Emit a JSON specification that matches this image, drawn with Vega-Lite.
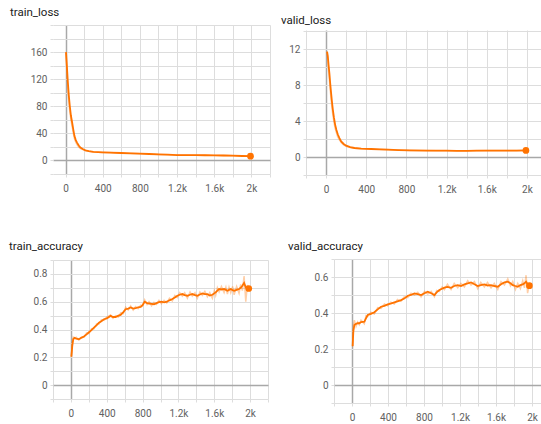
{
  "$schema": "https://vega.github.io/schema/vega-lite/v6.json",
  "padding": {"left": 9, "top": 6, "right": 0, "bottom": 0},
  "columns": 2,
  "align": "none",
  "spacing": {"row": 46, "column": 10},
  "concat": [
    {
      "width": 217, "height": 149,
      "title": {"text": "train_loss", "offset": 2},
      "data": {"name": "tl"},
      "layer": [
        {"mark": {"type": "line", "color": "#ff7300", "opacity": 0.35, "strokeWidth": 1.5},
         "encoding": {
           "x": {"field": "step", "type": "quantitative", "scale": {"domain": [-135, 2200], "nice": false, "zero": false},
                 "axis": {"title": null, "tickCount": 50, "values": [0,200,400,600,800,1000,1200,1400,1600,1800,2000,2200], "labelExpr": "datum.value >= 0 && datum.value % 400 == 0 ? (datum.value >= 1000 ? (datum.value / 1000) + 'k' : '' + datum.value) : ''", "minExtent": 18, "maxExtent": 18,
                          "gridColor": {"condition": {"test": "datum.value === 0", "value": "#a8a8a8"}, "value": "#dddddd"}, "gridWidth": {"condition": {"test": "datum.value === 0", "value": 1.5}, "value": 1}}},
           "y": {"field": "raw", "type": "quantitative", "scale": {"domain": [-20, 200], "nice": false, "zero": false},
                 "axis": {"title": null, "tickCount": 50, "values": [-20,0,20,40,60,80,100,120,140,160,180,200], "labelExpr": "datum.value >= 0 && datum.value <= 160 && datum.value % 40 == 0 ? '' + datum.value : ''", "minExtent": 43, "maxExtent": 43,
                          "gridColor": {"condition": {"test": "datum.value === 0", "value": "#a8a8a8"}, "value": "#dddddd"}, "gridWidth": {"condition": {"test": "datum.value === 0", "value": 1.5}, "value": 1}}}
         }},
        {"mark": {"type": "line", "color": "#ff7300", "strokeWidth": 1.8},
         "encoding": {"x": {"field": "step", "type": "quantitative"}, "y": {"field": "smooth", "type": "quantitative"}}},
        {"transform": [{"joinaggregate": [{"op": "max", "field": "step", "as": "last"}]}, {"filter": "datum.step == datum.last"}],
         "mark": {"type": "point", "filled": true, "color": "#ff7300", "opacity": 1, "size": 45},
         "encoding": {"x": {"field": "step", "type": "quantitative"}, "y": {"field": "smooth", "type": "quantitative"}}}
      ]
    },
    {
      "width": 236, "height": 150,
      "title": {"text": "valid_loss", "offset": -1},
      "data": {"name": "vl"},
      "layer": [
        {"mark": {"type": "line", "color": "#ff7300", "opacity": 0.35, "strokeWidth": 1.5},
         "encoding": {
           "x": {"field": "step", "type": "quantitative", "scale": {"domain": [-200, 2150], "nice": false, "zero": false},
                 "axis": {"title": null, "tickCount": 50, "values": [-200,0,200,400,600,800,1000,1200,1400,1600,1800,2000], "labelExpr": "datum.value >= 0 && datum.value % 400 == 0 ? (datum.value >= 1000 ? (datum.value / 1000) + 'k' : '' + datum.value) : ''", "minExtent": 18, "maxExtent": 18,
                          "gridColor": {"condition": {"test": "datum.value === 0", "value": "#a8a8a8"}, "value": "#dddddd"}, "gridWidth": {"condition": {"test": "datum.value === 0", "value": 1.5}, "value": 1}}},
           "y": {"field": "raw", "type": "quantitative", "scale": {"domain": [-2, 14.67], "nice": false, "zero": false},
                 "axis": {"title": null, "tickCount": 50, "values": [-2,0,2,4,6,8,10,12,14], "labelExpr": "datum.value >= 0 && datum.value <= 12 && datum.value % 4 == 0 ? '' + datum.value : ''", "minExtent": 25, "maxExtent": 25,
                          "gridColor": {"condition": {"test": "datum.value === 0", "value": "#a8a8a8"}, "value": "#dddddd"}, "gridWidth": {"condition": {"test": "datum.value === 0", "value": 1.5}, "value": 1}}}
         }},
        {"mark": {"type": "line", "color": "#ff7300", "strokeWidth": 1.8},
         "encoding": {"x": {"field": "step", "type": "quantitative"}, "y": {"field": "smooth", "type": "quantitative"}}},
        {"transform": [{"joinaggregate": [{"op": "max", "field": "step", "as": "last"}]}, {"filter": "datum.step == datum.last"}],
         "mark": {"type": "point", "filled": true, "color": "#ff7300", "opacity": 1, "size": 45},
         "encoding": {"x": {"field": "step", "type": "quantitative"}, "y": {"field": "smooth", "type": "quantitative"}}},
        {"data": {"values": [{}]}, "mark": {"type": "rect", "color": "#ffffff", "opacity": 1},
         "encoding": {"x": {"datum": -200, "type": "quantitative"}, "x2": {"datum": 2150}, "y": {"datum": 14.05, "type": "quantitative"}, "y2": {"datum": 14.67}}}
      ]
    },
    {
      "width": 215, "height": 139,
      "title": {"text": "train_accuracy", "offset": 3},
      "data": {"name": "ta"},
      "layer": [
        {"mark": {"type": "line", "color": "#ff7300", "opacity": 0.35, "strokeWidth": 1.5},
         "encoding": {
           "x": {"field": "step", "type": "quantitative", "scale": {"domain": [-200, 2200], "nice": false, "zero": false},
                 "axis": {"title": null, "tickCount": 50, "values": [-200,0,200,400,600,800,1000,1200,1400,1600,1800,2000,2200], "labelExpr": "datum.value >= 0 && datum.value % 400 == 0 ? (datum.value >= 1000 ? (datum.value / 1000) + 'k' : '' + datum.value) : ''", "minExtent": 18, "maxExtent": 18,
                          "gridColor": {"condition": {"test": "datum.value === 0", "value": "#a8a8a8"}, "value": "#dddddd"}, "gridWidth": {"condition": {"test": "datum.value === 0", "value": 1.5}, "value": 1}}},
           "y": {"field": "raw", "type": "quantitative", "scale": {"domain": [-0.1, 0.9], "nice": false, "zero": false},
                 "axis": {"title": null, "tickCount": 50, "values": [-0.1,0,0.1,0.2,0.3,0.4,0.5,0.6,0.7,0.8,0.9], "labelExpr": "indexof([0, 0.2, 0.4, 0.6, 0.8], datum.value) >= 0 ? '' + datum.value : ''", "minExtent": 44, "maxExtent": 44,
                          "gridColor": {"condition": {"test": "datum.value === 0", "value": "#a8a8a8"}, "value": "#dddddd"}, "gridWidth": {"condition": {"test": "datum.value === 0", "value": 1.5}, "value": 1}}}
         }},
        {"mark": {"type": "line", "color": "#ff7300", "strokeWidth": 1.8},
         "encoding": {"x": {"field": "step", "type": "quantitative"}, "y": {"field": "smooth", "type": "quantitative"}}},
        {"transform": [{"joinaggregate": [{"op": "max", "field": "step", "as": "last"}]}, {"filter": "datum.step == datum.last"}],
         "mark": {"type": "point", "filled": true, "color": "#ff7300", "opacity": 1, "size": 45},
         "encoding": {"x": {"field": "step", "type": "quantitative"}, "y": {"field": "smooth", "type": "quantitative"}}}
      ]
    },
    {
      "width": 208, "height": 144,
      "title": {"text": "valid_accuracy", "offset": 2, "dx": 7},
      "data": {"name": "va"},
      "layer": [
        {"mark": {"type": "line", "color": "#ff7300", "opacity": 0.35, "strokeWidth": 1.5},
         "encoding": {
           "x": {"field": "step", "type": "quantitative", "scale": {"domain": [-200, 2110], "nice": false, "zero": false},
                 "axis": {"title": null, "tickCount": 50, "values": [-200,0,200,400,600,800,1000,1200,1400,1600,1800,2000], "labelExpr": "datum.value >= 0 && datum.value % 400 == 0 ? (datum.value >= 1000 ? (datum.value / 1000) + 'k' : '' + datum.value) : ''", "minExtent": 18, "maxExtent": 18,
                          "gridColor": {"condition": {"test": "datum.value === 0", "value": "#a8a8a8"}, "value": "#dddddd"}, "gridWidth": {"condition": {"test": "datum.value === 0", "value": 1.5}, "value": 1}}},
           "y": {"field": "raw", "type": "quantitative", "scale": {"domain": [-0.1, 0.7], "nice": false, "zero": false},
                 "axis": {"title": null, "tickCount": 50, "values": [-0.1,0,0.1,0.2,0.3,0.4,0.5,0.6,0.7], "labelExpr": "indexof([0, 0.2, 0.4, 0.6], datum.value) >= 0 ? '' + datum.value : ''", "minExtent": 53, "maxExtent": 53,
                          "gridColor": {"condition": {"test": "datum.value === 0", "value": "#a8a8a8"}, "value": "#dddddd"}, "gridWidth": {"condition": {"test": "datum.value === 0", "value": 1.5}, "value": 1}}}
         }},
        {"mark": {"type": "line", "color": "#ff7300", "strokeWidth": 1.8},
         "encoding": {"x": {"field": "step", "type": "quantitative"}, "y": {"field": "smooth", "type": "quantitative"}}},
        {"transform": [{"joinaggregate": [{"op": "max", "field": "step", "as": "last"}]}, {"filter": "datum.step == datum.last"}],
         "mark": {"type": "point", "filled": true, "color": "#ff7300", "opacity": 1, "size": 45},
         "encoding": {"x": {"field": "step", "type": "quantitative"}, "y": {"field": "smooth", "type": "quantitative"}}}
      ]
    }
  ],
  "datasets": {
    "tl": [
      {"step": 5, "smooth": 160, "raw": 160}, {"step": 15, "smooth": 138, "raw": 128}, {"step": 25, "smooth": 115, "raw": 105},
      {"step": 35, "smooth": 96, "raw": 88}, {"step": 46, "smooth": 80, "raw": 72}, {"step": 58, "smooth": 66, "raw": 60},
      {"step": 71, "smooth": 56, "raw": 50}, {"step": 84, "smooth": 45, "raw": 40}, {"step": 96, "smooth": 36, "raw": 32},
      {"step": 110, "smooth": 30, "raw": 27}, {"step": 125, "smooth": 26, "raw": 23}, {"step": 142, "smooth": 22, "raw": 20},
      {"step": 160, "smooth": 19, "raw": 17.5}, {"step": 185, "smooth": 17, "raw": 16}, {"step": 214, "smooth": 15, "raw": 14.5},
      {"step": 250, "smooth": 13.8, "raw": 13.5}, {"step": 300, "smooth": 12.8, "raw": 12.5}, {"step": 400, "smooth": 12, "raw": 11.8},
      {"step": 480, "smooth": 11.5, "raw": 11.6}, {"step": 600, "smooth": 11, "raw": 10.8}, {"step": 700, "smooth": 10.5, "raw": 10.6},
      {"step": 800, "smooth": 10, "raw": 9.8}, {"step": 900, "smooth": 9.5, "raw": 9.6}, {"step": 1000, "smooth": 9, "raw": 8.9},
      {"step": 1100, "smooth": 8.5, "raw": 8.6}, {"step": 1200, "smooth": 8, "raw": 7.9}, {"step": 1300, "smooth": 7.9, "raw": 8},
      {"step": 1400, "smooth": 7.8, "raw": 7.7}, {"step": 1500, "smooth": 7.7, "raw": 7.8}, {"step": 1600, "smooth": 7.6, "raw": 7.5},
      {"step": 1700, "smooth": 7.3, "raw": 7.4}, {"step": 1800, "smooth": 7, "raw": 6.9}, {"step": 1900, "smooth": 6.6, "raw": 6.7},
      {"step": 1990, "smooth": 6.3, "raw": 6.2}
    ],
    "vl": [
      {"step": 10, "smooth": 11.7, "raw": 11.7}, {"step": 17, "smooth": 11.2, "raw": 10.8}, {"step": 25, "smooth": 10.2, "raw": 9.6},
      {"step": 33, "smooth": 9.3, "raw": 8.6}, {"step": 41, "smooth": 8.2, "raw": 7.5}, {"step": 50, "smooth": 7.1, "raw": 6.4},
      {"step": 58, "smooth": 6.2, "raw": 5.5}, {"step": 67, "smooth": 5.3, "raw": 4.7}, {"step": 78, "smooth": 4.4, "raw": 3.9},
      {"step": 90, "smooth": 3.6, "raw": 3.2}, {"step": 103, "smooth": 3.0, "raw": 2.7}, {"step": 117, "smooth": 2.5, "raw": 2.2},
      {"step": 133, "smooth": 2.1, "raw": 1.9}, {"step": 150, "smooth": 1.74, "raw": 1.6}, {"step": 175, "smooth": 1.45, "raw": 1.35},
      {"step": 200, "smooth": 1.26, "raw": 1.2}, {"step": 240, "smooth": 1.1, "raw": 1.05}, {"step": 283, "smooth": 1.0, "raw": 0.98},
      {"step": 350, "smooth": 0.93, "raw": 0.92}, {"step": 450, "smooth": 0.89, "raw": 0.88}, {"step": 530, "smooth": 0.85, "raw": 0.86},
      {"step": 617, "smooth": 0.81, "raw": 0.8}, {"step": 720, "smooth": 0.77, "raw": 0.78}, {"step": 833, "smooth": 0.74, "raw": 0.73},
      {"step": 1000, "smooth": 0.72, "raw": 0.72}, {"step": 1100, "smooth": 0.71, "raw": 0.7}, {"step": 1200, "smooth": 0.7, "raw": 0.7},
      {"step": 1300, "smooth": 0.69, "raw": 0.69}, {"step": 1400, "smooth": 0.69, "raw": 0.7}, {"step": 1500, "smooth": 0.7, "raw": 0.7},
      {"step": 1600, "smooth": 0.72, "raw": 0.72}, {"step": 1700, "smooth": 0.72, "raw": 0.71}, {"step": 1800, "smooth": 0.72, "raw": 0.73},
      {"step": 1900, "smooth": 0.72, "raw": 0.72}, {"step": 1990, "smooth": 0.73, "raw": 0.73}
    ],
    "ta": [
      {"step": 5, "smooth": 0.205, "raw": 0.2}, {"step": 15, "smooth": 0.28, "raw": 0.3}, {"step": 26, "smooth": 0.33, "raw": 0.345},
      {"step": 40, "smooth": 0.34, "raw": 0.335}, {"step": 60, "smooth": 0.335, "raw": 0.345}, {"step": 89, "smooth": 0.33, "raw": 0.325},
      {"step": 115, "smooth": 0.34, "raw": 0.345}, {"step": 145, "smooth": 0.35, "raw": 0.345}, {"step": 175, "smooth": 0.365, "raw": 0.375},
      {"step": 201, "smooth": 0.38, "raw": 0.37}, {"step": 230, "smooth": 0.395, "raw": 0.405}, {"step": 257, "smooth": 0.413, "raw": 0.405},
      {"step": 285, "smooth": 0.43, "raw": 0.44}, {"step": 313, "smooth": 0.449, "raw": 0.44}, {"step": 340, "smooth": 0.46, "raw": 0.47},
      {"step": 369, "smooth": 0.474, "raw": 0.465}, {"step": 400, "smooth": 0.48, "raw": 0.49}, {"step": 443, "smooth": 0.498, "raw": 0.505},
      {"step": 470, "smooth": 0.49, "raw": 0.48}, {"step": 499, "smooth": 0.49, "raw": 0.5}, {"step": 530, "smooth": 0.5, "raw": 0.49},
      {"step": 555, "smooth": 0.505, "raw": 0.52}, {"step": 585, "smooth": 0.525, "raw": 0.515}, {"step": 611, "smooth": 0.546, "raw": 0.56},
      {"step": 640, "smooth": 0.55, "raw": 0.54}, {"step": 667, "smooth": 0.558, "raw": 0.57}, {"step": 695, "smooth": 0.55, "raw": 0.54},
      {"step": 723, "smooth": 0.553, "raw": 0.565}, {"step": 750, "smooth": 0.56, "raw": 0.55}, {"step": 779, "smooth": 0.563, "raw": 0.575},
      {"step": 800, "smooth": 0.575, "raw": 0.57}, {"step": 823, "smooth": 0.6, "raw": 0.615}, {"step": 850, "smooth": 0.59, "raw": 0.58},
      {"step": 872, "smooth": 0.587, "raw": 0.6}, {"step": 900, "smooth": 0.585, "raw": 0.57}, {"step": 927, "smooth": 0.582, "raw": 0.595},
      {"step": 955, "smooth": 0.59, "raw": 0.58}, {"step": 983, "smooth": 0.597, "raw": 0.61}, {"step": 1010, "smooth": 0.6, "raw": 0.585},
      {"step": 1040, "smooth": 0.595, "raw": 0.61}, {"step": 1070, "smooth": 0.6, "raw": 0.59}, {"step": 1100, "smooth": 0.61, "raw": 0.625},
      {"step": 1132, "smooth": 0.619, "raw": 0.605}, {"step": 1160, "smooth": 0.63, "raw": 0.645}, {"step": 1188, "smooth": 0.643, "raw": 0.63},
      {"step": 1215, "smooth": 0.65, "raw": 0.665}, {"step": 1244, "smooth": 0.655, "raw": 0.64}, {"step": 1270, "smooth": 0.648, "raw": 0.665},
      {"step": 1300, "smooth": 0.643, "raw": 0.625}, {"step": 1330, "smooth": 0.65, "raw": 0.67}, {"step": 1355, "smooth": 0.655, "raw": 0.64},
      {"step": 1385, "smooth": 0.648, "raw": 0.665}, {"step": 1411, "smooth": 0.643, "raw": 0.625}, {"step": 1440, "smooth": 0.652, "raw": 0.67},
      {"step": 1467, "smooth": 0.66, "raw": 0.645}, {"step": 1495, "smooth": 0.655, "raw": 0.675}, {"step": 1523, "smooth": 0.655, "raw": 0.635},
      {"step": 1550, "smooth": 0.645, "raw": 0.665}, {"step": 1579, "smooth": 0.65, "raw": 0.625}, {"step": 1600, "smooth": 0.66, "raw": 0.68},
      {"step": 1616, "smooth": 0.667, "raw": 0.645}, {"step": 1635, "smooth": 0.68, "raw": 0.7}, {"step": 1654, "smooth": 0.691, "raw": 0.67},
      {"step": 1680, "smooth": 0.688, "raw": 0.71}, {"step": 1710, "smooth": 0.691, "raw": 0.665}, {"step": 1730, "smooth": 0.685, "raw": 0.705},
      {"step": 1747, "smooth": 0.679, "raw": 0.655}, {"step": 1765, "smooth": 0.685, "raw": 0.705}, {"step": 1784, "smooth": 0.691, "raw": 0.665},
      {"step": 1805, "smooth": 0.683, "raw": 0.71}, {"step": 1822, "smooth": 0.679, "raw": 0.65}, {"step": 1850, "smooth": 0.685, "raw": 0.71},
      {"step": 1877, "smooth": 0.691, "raw": 0.66}, {"step": 1895, "smooth": 0.7, "raw": 0.725}, {"step": 1914, "smooth": 0.715, "raw": 0.68},
      {"step": 1933, "smooth": 0.735, "raw": 0.785}, {"step": 1952, "smooth": 0.703, "raw": 0.6}, {"step": 1970, "smooth": 0.698, "raw": 0.72},
      {"step": 1985, "smooth": 0.695, "raw": 0.69}
    ],
    "va": [
      {"step": 7, "smooth": 0.217, "raw": 0.21}, {"step": 15, "smooth": 0.3, "raw": 0.33}, {"step": 26, "smooth": 0.333, "raw": 0.36},
      {"step": 45, "smooth": 0.34, "raw": 0.325}, {"step": 63, "smooth": 0.343, "raw": 0.35}, {"step": 81, "smooth": 0.343, "raw": 0.335},
      {"step": 100, "smooth": 0.35, "raw": 0.36}, {"step": 137, "smooth": 0.352, "raw": 0.34}, {"step": 155, "smooth": 0.37, "raw": 0.385},
      {"step": 174, "smooth": 0.389, "raw": 0.38}, {"step": 210, "smooth": 0.395, "raw": 0.405}, {"step": 248, "smooth": 0.404, "raw": 0.395},
      {"step": 285, "smooth": 0.42, "raw": 0.43}, {"step": 322, "smooth": 0.435, "raw": 0.425}, {"step": 360, "smooth": 0.44, "raw": 0.45},
      {"step": 396, "smooth": 0.448, "raw": 0.44}, {"step": 430, "smooth": 0.452, "raw": 0.46}, {"step": 470, "smooth": 0.459, "raw": 0.45},
      {"step": 505, "smooth": 0.465, "raw": 0.475}, {"step": 544, "smooth": 0.472, "raw": 0.465}, {"step": 580, "smooth": 0.48, "raw": 0.49},
      {"step": 619, "smooth": 0.496, "raw": 0.485}, {"step": 655, "smooth": 0.5, "raw": 0.51}, {"step": 693, "smooth": 0.509, "raw": 0.5},
      {"step": 730, "smooth": 0.505, "raw": 0.515}, {"step": 767, "smooth": 0.5, "raw": 0.49}, {"step": 805, "smooth": 0.51, "raw": 0.52},
      {"step": 841, "smooth": 0.518, "raw": 0.505}, {"step": 880, "smooth": 0.51, "raw": 0.52}, {"step": 915, "smooth": 0.5, "raw": 0.49},
      {"step": 940, "smooth": 0.515, "raw": 0.525}, {"step": 970, "smooth": 0.528, "raw": 0.52}, {"step": 1000, "smooth": 0.535, "raw": 0.545},
      {"step": 1026, "smooth": 0.541, "raw": 0.53}, {"step": 1060, "smooth": 0.545, "raw": 0.56}, {"step": 1100, "smooth": 0.54, "raw": 0.53},
      {"step": 1135, "smooth": 0.55, "raw": 0.565}, {"step": 1174, "smooth": 0.555, "raw": 0.54}, {"step": 1210, "smooth": 0.55, "raw": 0.565},
      {"step": 1248, "smooth": 0.559, "raw": 0.545}, {"step": 1285, "smooth": 0.565, "raw": 0.58}, {"step": 1322, "smooth": 0.57, "raw": 0.555},
      {"step": 1360, "smooth": 0.56, "raw": 0.575}, {"step": 1396, "smooth": 0.55, "raw": 0.535}, {"step": 1430, "smooth": 0.555, "raw": 0.57},
      {"step": 1470, "smooth": 0.559, "raw": 0.545}, {"step": 1505, "smooth": 0.553, "raw": 0.57}, {"step": 1544, "smooth": 0.555, "raw": 0.54},
      {"step": 1580, "smooth": 0.55, "raw": 0.565}, {"step": 1619, "smooth": 0.546, "raw": 0.53}, {"step": 1655, "smooth": 0.56, "raw": 0.575},
      {"step": 1693, "smooth": 0.57, "raw": 0.555}, {"step": 1730, "smooth": 0.574, "raw": 0.59}, {"step": 1760, "smooth": 0.565, "raw": 0.55},
      {"step": 1785, "smooth": 0.555, "raw": 0.575}, {"step": 1815, "smooth": 0.55, "raw": 0.53}, {"step": 1841, "smooth": 0.546, "raw": 0.565},
      {"step": 1870, "smooth": 0.555, "raw": 0.535}, {"step": 1896, "smooth": 0.559, "raw": 0.58}, {"step": 1915, "smooth": 0.565, "raw": 0.54},
      {"step": 1933, "smooth": 0.574, "raw": 0.61}, {"step": 1950, "smooth": 0.56, "raw": 0.51}, {"step": 1970, "smooth": 0.552, "raw": 0.56}
    ]
  },
  "config": {
    "view": {"stroke": null},
    "axis": {"domain": false, "grid": true, "tickColor": "#dddddd", "tickSize": 3, "labelFont": "Roboto", "labelFontSize": 10, "labelColor": "#616161"},
    "axisX": {"labelPadding": 6, "labelFlush": false, "labelOverlap": false},
    "axisY": {"labelPadding": 3, "labelOverlap": false},
    "title": {"font": "Roboto", "fontSize": 11.5, "fontWeight": "normal", "color": "#212121", "anchor": "start", "frame": "bounds"}
  }
}
